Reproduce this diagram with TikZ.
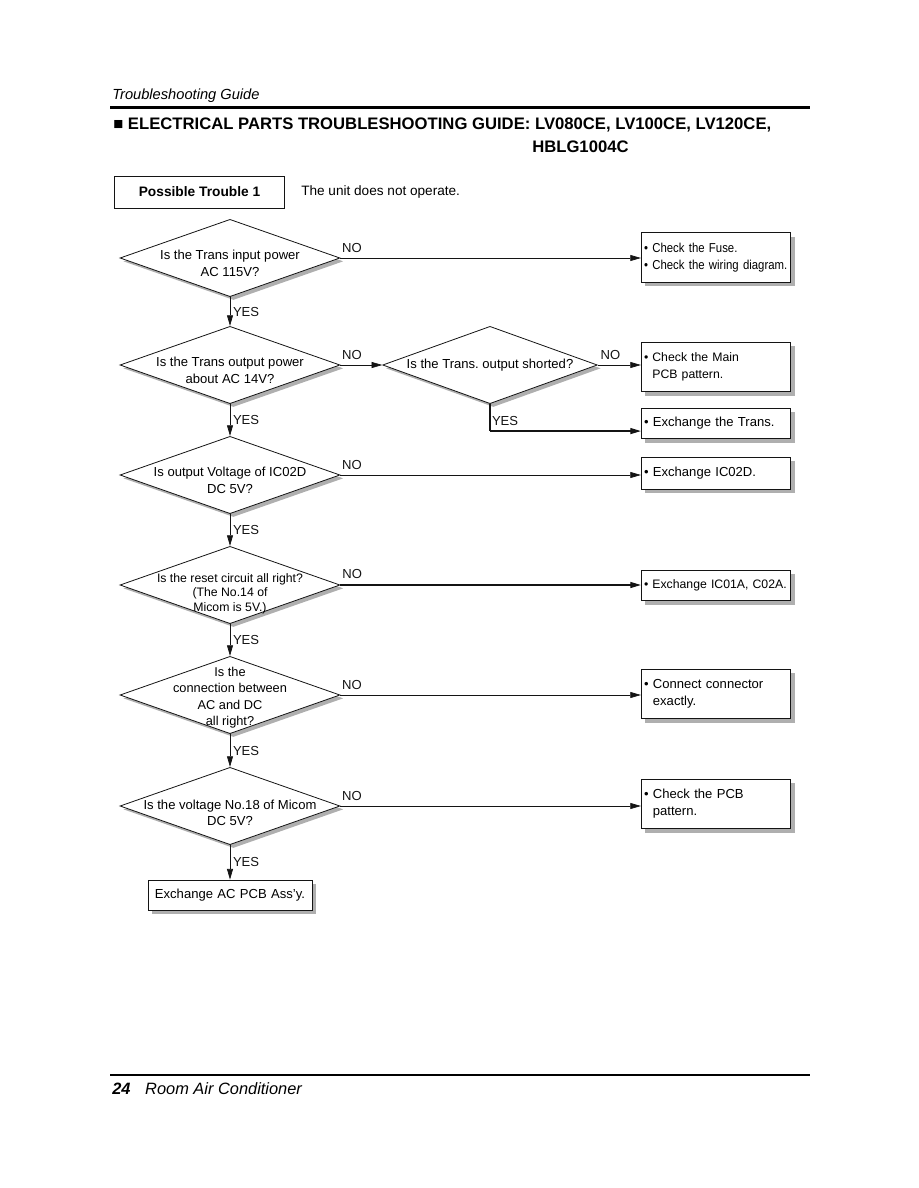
\documentclass[tikz,border=0pt]{standalone}
\usepackage{fontspec}
\setmainfont{Liberation Sans}
\newfontfamily\narrowsans{Liberation Sans}[FakeStretch=0.88]
\usetikzlibrary{shapes.geometric, arrows.meta, positioning, shadows}
\definecolor{mydark}{RGB}{20,20,20}
\definecolor{myshadow}{RGB}{175,175,175}
\tikzset{
  block/.style={rectangle, draw=mydark, fill=white, line width=0.6pt,
    text width=108pt, align=left, inner xsep=2pt, inner ysep=0pt,
    minimum width=112pt, font=\fontsize{9.2}{12.8}\selectfont,
    drop shadow={shadow xshift=3pt, shadow yshift=-3pt, fill=myshadow, opacity=1}},
  decision/.style={diamond, draw=mydark, fill=white, line width=0.6pt,
    minimum width=165pt, minimum height=58pt, inner sep=0pt,
    drop shadow={shadow xshift=2.5pt, shadow yshift=-2.5pt, fill=myshadow, opacity=1}},
  qtext/.style={align=center, inner sep=0pt, font=\fontsize{9.8}{12.5}\selectfont},
  tag/.style={font=\fontsize{9.8}{12}\selectfont, inner sep=1pt},
  arrow/.style={-{Triangle[length=8pt,width=4.5pt]}, line width=0.5pt, color=mydark},
  line/.style={line width=0.5pt, color=mydark}
}
\begin{document}
\frenchspacing
\begin{tikzpicture}[x=0.75pt, y=-0.75pt]
  \useasboundingbox (0,0) rectangle (918,1188);

  % page header
  \node[anchor=base west, inner sep=0pt, font=\fontsize{11}{13}\selectfont\itshape] (guide) at (112,99) {Troubleshooting Guide};
  \draw[line width=2.25pt] (110,107) -- (810,107);
  \node[anchor=base west, inner sep=0pt, font=\fontsize{12.5}{14}\selectfont\bfseries] (title) at (113,129) {■ ELECTRICAL PARTS TROUBLESHOOTING GUIDE: LV080CE, LV100CE, LV120CE,};
  \node[anchor=base west, inner sep=0pt, font=\fontsize{12.5}{14}\selectfont\bfseries] (model) at (532,152) {HBLG1004C};

  % trouble
  \node[draw=mydark, line width=0.6pt, minimum width=128pt, minimum height=24pt, font=\fontsize{10.3}{12}\selectfont\bfseries] (trouble) at (199.5,192) {Possible Trouble 1};
  \node[anchor=west, inner sep=0pt, font=\fontsize{10.2}{12}\selectfont] (symptom) at (301,192) {The unit does not operate.};

  % decisions
  \node[decision] (q1) at (230,258) {};
  \node[qtext, yshift=-4pt] at (q1) {Is the Trans input power\\AC 115V?};
  \node[decision] (q2) at (230,365) {};
  \node[qtext, yshift=-4pt] at (q2) {Is the Trans output power\\about AC 14V?};
  \node[decision, minimum width=161pt] (q3) at (490,365) {};
  \node[qtext] at (q3) {Is the Trans. output shorted?};
  \node[decision] (q4) at (230,475) {};
  \node[qtext, yshift=-4pt] at (q4) {Is output Voltage of IC02D\\DC 5V?};
  \node[decision] (q5) at (230,585) {};
  \node[qtext, yshift=-6.5pt, font=\fontsize{9.2}{11}\selectfont] at (q5) {Is the reset circuit all right?\\(The No.14 of\\Micom is 5V.)};
  \node[decision] (q6) at (230,695) {};
  \node[qtext, yshift=-2pt, font=\fontsize{9.6}{12.2}\selectfont] at (q6) {Is the\\connection between\\AC and DC\\all right?};
  \node[decision] (q7) at (230,806) {};
  \node[qtext, yshift=-5pt] at (q7) {Is the voltage No.18 of Micom\\DC 5V?};

  % actions
  \node[block, minimum height=37pt, font=\fontsize{9.7}{12.8}\narrowsans] (fuse) at (716,257.5) {• Check the Fuse.\\\mbox{• Check the wiring diagram.}};
  \node[block, minimum height=37pt] (mainpcb) at (716,367) {• Check the Main\\\phantom{• }PCB pattern.};
  \node[block, minimum height=23pt, font=\fontsize{9.8}{12}\selectfont] (trans) at (716,423.5) {• Exchange the Trans.};
  \node[block, minimum height=24pt, font=\fontsize{9.8}{12}\selectfont] (ic02d) at (716,473) {• Exchange IC02D.};
  \node[block, minimum height=23pt] (ic01a) at (716,585.5) {\mbox{• Exchange IC01A, C02A.}};
  \node[block, minimum height=37pt, font=\fontsize{9.8}{12.8}\selectfont] (conn) at (716,694) {• Connect connector\\\phantom{• }exactly.};
  \node[block, minimum height=37pt, font=\fontsize{9.8}{12.8}\selectfont] (pcb) at (716,804) {• Check the PCB\\\phantom{• }pattern.};
  \node[block, text width=118pt, align=center, minimum width=123pt, minimum height=22.5pt, font=\fontsize{9.8}{12}\selectfont] (acpcb) at (230,895) {Exchange AC PCB Ass'y.};

  % NO branches
  \draw[arrow] (q1.east) -- node[tag, pos=0, anchor=south west, yshift=3pt] {NO} (q1.east -| fuse.west);
  \draw[arrow] (q2.east) -- node[tag, pos=0, anchor=south west, yshift=3pt] {NO} (q3.west);
  \draw[arrow] (q3.east) -- node[tag, pos=0, anchor=south west, xshift=1pt, yshift=3pt] {NO} (q3.east -| mainpcb.west);
  \draw[arrow] (q4.east) -- node[tag, pos=0, anchor=south west, yshift=3pt] {NO} (q4.east -| ic02d.west);
  \draw[arrow, line width=1pt] (q5.east) -- node[tag, pos=0, anchor=south west, yshift=3pt] {NO} (q5.east -| ic01a.west);
  \draw[arrow] (q6.east) -- node[tag, pos=0, anchor=south west, yshift=3pt] {NO} (q6.east -| conn.west);
  \draw[arrow] (q7.east) -- node[tag, pos=0, anchor=south west, yshift=3pt] {NO} (q7.east -| pcb.west);

  % YES branches
  \draw[arrow] (q1.south) -- node[tag, right, xshift=1pt] {YES} (q2.north);
  \draw[arrow] (q2.south) -- node[tag, right, xshift=1pt] {YES} (q4.north);
  \draw[arrow] (q4.south) -- node[tag, right, xshift=1pt] {YES} (q5.north);
  \draw[arrow] (q5.south) -- node[tag, right, xshift=1pt] {YES} (q6.north);
  \draw[arrow] (q6.south) -- node[tag, right, xshift=1pt] {YES} (q7.north);
  \draw[arrow] (q7.south) -- node[tag, right, xshift=1pt] {YES} (acpcb.north);
  \draw[line, line width=1pt] (q3.south) -- ++(0,27) coordinate (c3);
  \draw[arrow, line width=1pt] (c3) -- node[tag, pos=0, anchor=south west, yshift=2.5pt] {YES} (c3 -| trans.west);

  % page footer
  \draw[line width=1.5pt] (110,1075) -- (810,1075);
  \node[anchor=base west, inner sep=0pt, font=\fontsize{12.3}{14}\selectfont\itshape] (footer) at (112,1094) {\textbf{24}\hspace{11pt}Room Air Conditioner};
\end{tikzpicture}
\end{document}
